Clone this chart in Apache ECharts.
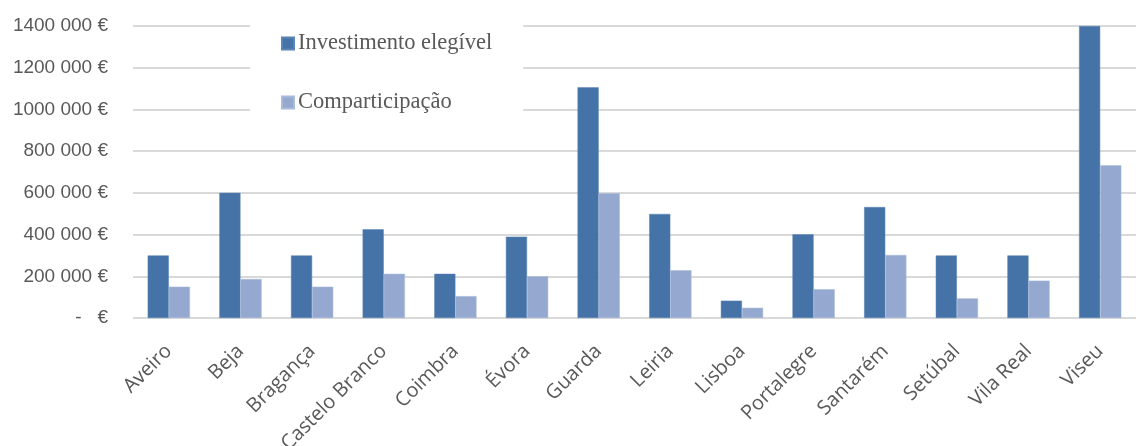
<!DOCTYPE html>
<html>
<head>
<meta charset="utf-8">
<script src="https://cdn.jsdelivr.net/npm/echarts@6/dist/echarts.min.js"></script>
<style>html,body{margin:0;padding:0;background:#fff}#c{width:1136px;height:446px}</style>
</head>
<body>
<div id="c"></div>
<script>
const categories = ['Aveiro','Beja','Bragança','Castelo Branco','Coimbra','Évora','Guarda','Leiria','Lisboa','Portalegre','Santarém','Setúbal','Vila Real','Viseu'];
const investimento = [300000,600000,300000,425000,212000,390000,1106000,499000,83000,401000,532000,300000,300000,1400000];
const comparticipacao = [150000,187000,150000,212000,105000,200000,598000,229000,49000,138000,302000,94000,179000,732000];
const seriesNames = ['Investimento elegível','Comparticipação'];
const yTicks = {min:0,max:1400000,interval:200000};

function fmt(v){
  if(v===0) return '-   €';
  const th = Math.floor(v/1000);
  const r = String(v%1000).padStart(3,'0');
  return th + ' ' + r + ' €';
}
const chart = echarts.init(document.getElementById('c'));
chart.setOption({
  animation:false,
  grid:{left:133,right:0,top:26,bottom:128,containLabel:false,outerBoundsMode:'none'},
  legend:{
    orient:'vertical',left:250,top:16,
    padding:[16,31,8,31],
    backgroundColor:'#ffffff',
    itemWidth:12,itemHeight:12,itemGap:36,
    icon:'rect',
    textStyle:{fontFamily:'Liberation Serif',fontSize:22.5,color:'#595959',lineHeight:22,padding:[0,0,0,-1]},
    data:seriesNames
  },
  xAxis:{
    type:'category',data:categories,
    axisLine:{show:false},axisTick:{show:false},
    axisLabel:{rotate:45,fontFamily:'Open Sans',fontSize:20,color:'#595959',margin:30,interval:0}
  },
  yAxis:{
    type:'value',min:yTicks.min,max:yTicks.max,interval:yTicks.interval,
    axisLine:{show:false},axisTick:{show:false},
    splitLine:{lineStyle:{color:'#d9d9d9',width:2}},
    axisLabel:{formatter:fmt,fontFamily:'Liberation Sans',fontSize:19,color:'#595959',margin:25}
  },
  series:[
    {name:seriesNames[0],type:'bar',data:investimento,barGap:'0%',barCategoryGap:'41%',
     itemStyle:{color:'#4573A7',borderColor:'#5a84b4',borderWidth:0.5}},
    {name:seriesNames[1],type:'bar',data:comparticipacao,
     itemStyle:{color:'#95A9D0',borderColor:'#a9bbdb',borderWidth:0.5}}
  ]
});
</script>
</body>
</html>
